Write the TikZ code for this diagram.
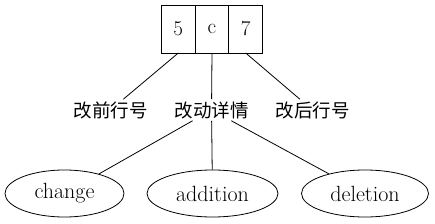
\documentclass[tikz,border=0pt]{standalone}
\usepackage{fontspec}
\newfontfamily\cjk{Noto Sans CJK SC}
\usetikzlibrary{positioning, shapes.geometric}
\tikzset{
  cellBox/.style={rectangle, draw, line width=0.8pt, minimum width=33.7pt,
                  minimum height=48pt, inner sep=0pt, outer sep=0pt,
                  font=\fontsize{21}{25}\selectfont},
  tagLbl/.style={inner sep=2pt, font=\cjk\fontsize{18.5}{22}\selectfont},
  kindEll/.style={ellipse, draw, line width=0.8pt, minimum height=47pt,
                  inner sep=0pt, font=\fontsize{22}{26}\selectfont},
  edgeL/.style={line width=0.8pt},
}
\begin{document}
\begin{tikzpicture}[x=1pt, y=-1pt]
    \useasboundingbox (0,0) rectangle (435,224);
    % record
    \node[cellBox] (cellC) at (212,29) {c};
    \node[cellBox, left=0pt of cellC] (cellA) {5};
    \node[cellBox, right=0pt of cellC] (cellB) {7};
    % labels
    \node[tagLbl] (lblA) at (110.5,110) {改前行号};
    \node[tagLbl] (lblC) at (211.5,110) {改动详情};
    \node[tagLbl] (lblB) at (312.5,110) {改后行号};
    % kinds
    \node[kindEll, minimum width=119pt] (change) at (64.5,193.5) {change};
    \node[kindEll, minimum width=131pt] (addition) at (212.5,193.5) {addition};
    \node[kindEll, minimum width=127pt] (deletion) at (365,193.5) {deletion};
    \draw[edgeL] (cellA.south) -- (lblA);
    \draw[edgeL] (cellC.south) -- (lblC);
    \draw[edgeL] (cellB.south) -- (lblB);
    \draw[edgeL] (lblC) -- (change);
    \draw[edgeL] (lblC) -- (addition);
    \draw[edgeL] (lblC) -- (deletion);
\end{tikzpicture}
\end{document}
